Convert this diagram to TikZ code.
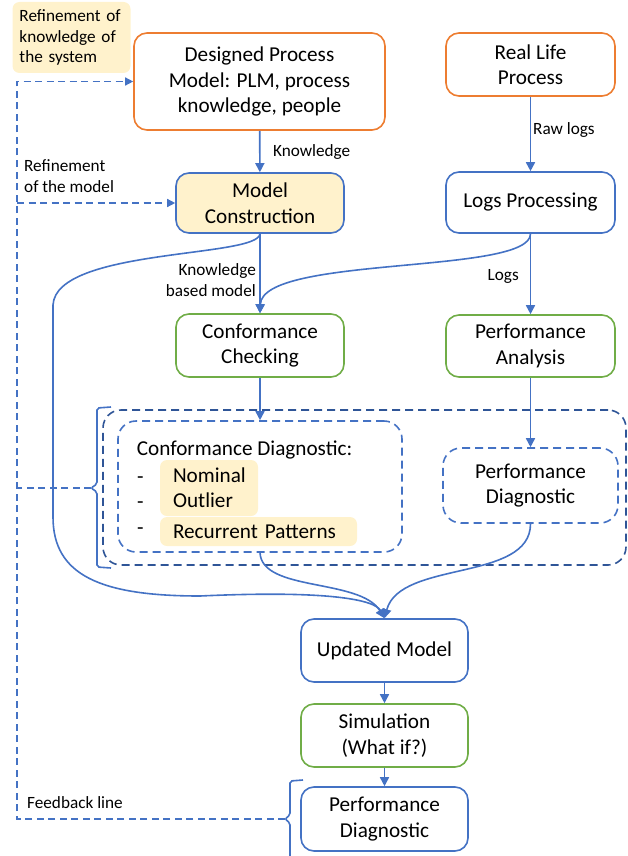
\documentclass[tikz,border=0pt]{standalone}
\usepackage{fontspec}
\setmainfont{Carlito}
\usetikzlibrary{arrows.meta,positioning,calc}
\definecolor{flowblue}{RGB}{68,114,196}
\definecolor{flownavy}{RGB}{47,85,151}
\definecolor{floworange}{RGB}{237,125,49}
\definecolor{flowgreen}{RGB}{112,173,71}
\definecolor{flowyellow}{RGB}{255,242,204}

\tikzset{
  procbox/.style={draw, rounded corners=13pt, line width=1.6pt, align=center, inner sep=0pt, font=\fontsize{21.2}{25.5}\selectfont},
  lbl/.style={font=\fontsize{17.2}{20.5}\selectfont, inner sep=0pt},
  bullet/.style={font=\fontsize{21.2}{25.5}\selectfont, inner sep=0pt, anchor=base west},
  flow/.style={draw=flowblue, line width=1.6pt, -{Triangle[length=9pt,width=9pt]}},
  fback/.style={draw=flowblue, line width=1.4pt, dash pattern=on 7pt off 4.5pt},
  diagbox/.style={line width=1.6pt, dash pattern=on 8pt off 5pt, rounded corners=18pt},
  hilite/.style={fill=flowyellow, rounded corners=7pt, inner sep=0pt},
  brk/.style={draw=flowblue, line width=1.6pt, rounded corners=2pt}
}

\begin{document}
\begin{tikzpicture}[x=1pt, y=-1pt]
  \useasboundingbox (0,0) rectangle (628,856);

  % top row
  \node[hilite, lbl, align=left, text width=104pt, minimum height=71pt, inner xsep=7pt] (refsys) at (71.5,37.5) {Refinement of\\knowledge of\\the system};
  \node[procbox, draw=floworange, minimum width=251pt, minimum height=97pt] (dpm) at (259.5,81.5) {Designed Process\\Model: PLM, process\\knowledge, people};
  \node[procbox, draw=floworange, minimum width=169pt, minimum height=63pt] (rlp) at (530.5,64.5) {Real Life\\Process};

  \node[procbox, draw=flowblue, fill=flowyellow, minimum width=168pt, minimum height=60pt] (mcon) at (260,203) {Model\\Construction};
  \node[procbox, draw=flowblue, minimum width=169pt, minimum height=61pt] (lproc) at (530.5,202.5) {Logs Processing};

  \node[procbox, draw=flowgreen, minimum width=168pt, minimum height=63pt] (cchk) at (260,345.5) {Conformance\\Checking};
  \node[procbox, draw=flowgreen, minimum width=169pt, minimum height=62pt] (panal) at (530.5,346) {Performance\\Analysis};

  % diagnostics
  \node[diagbox, draw=flownavy, minimum width=523pt, minimum height=155pt] (diag) at (364.5,487.5) {};
  \node[diagbox, draw=flowblue, minimum width=284pt, minimum height=131pt] (cdiag) at (260,486.5) {};
  \node[procbox, diagbox, draw=flowblue, minimum width=175pt, minimum height=75pt] (pdiag) at (530.5,485.5) {Performance\\Diagnostic};

  \node[procbox, draw=none, anchor=west] (cdtitle) at (136,450) {Conformance Diagnostic:};
  \node[hilite, font=\fontsize{21.2}{25}\selectfont, align=left, text width=72pt, minimum height=56pt, inner xsep=13pt] (hlnom) at (209,488) {Nominal\\Outlier};
  \node[hilite, font=\fontsize{21.2}{25}\selectfont, align=left, text width=171pt, minimum height=29pt, inner xsep=13pt] (hlrec) at (258.5,531.5) {Recurrent Patterns};
  \node[bullet] (dash1) at (137,483) {-};
  \node[bullet] (dash2) at (137,508) {-};
  \node[bullet] (dash3) at (137,534) {-};

  % bottom column
  \node[procbox, draw=flowblue, minimum width=167pt, minimum height=63pt] (umod) at (384.5,650.5) {Updated Model};
  \node[procbox, draw=flowgreen, minimum width=167pt, minimum height=63pt] (simu) at (384.5,735.5) {Simulation\\(What if?)};
  \node[procbox, draw=flowblue, minimum width=167pt, minimum height=64pt] (pdiagb) at (384.5,819) {Performance\\Diagnostic};

  % labels
  \node[lbl, anchor=west] (lknow) at (273,152) {Knowledge};
  \node[lbl, anchor=west] (lraw) at (533,130) {Raw logs};
  \node[lbl, anchor=east, align=right] (lkbm) at (256,280) {Knowledge\\based model};
  \node[lbl, anchor=east] (llogs) at (519,276) {Logs};
  \node[lbl, anchor=west, align=left] (lrefm) at (24,176) {Refinement\\of the model};
  \node[lbl, anchor=west] (lfeed) at (27,803) {Feedback line};

  % straight flows
  \draw[flow] (dpm) -- (mcon);
  \draw[flow] (rlp) -- (lproc);
  \draw[flow] (mcon) -- (cchk);
  \draw[flow] (lproc) -- (panal);
  \draw[flow] (cchk) -- (cdiag);
  \draw[flow] (panal) -- (pdiag);
  \draw[flow] (umod) -- (simu);
  \draw[flow] (simu) -- (pdiagb);

  % curved flows
  \draw[flow] (lproc.south) .. controls (530.5,275) and (262,255) .. (cchk.north);
  \draw[flow] (mcon.south) .. controls (258,258) and (56,248) .. (53,305) -- (53,517)
    .. controls (53,575) and (100,596) .. (200,596) .. controls (330,590) and (375,600) .. (umod.north);
  \draw[flow] (cdiag.south) .. controls (262,592) and (360,578) .. (umod.north);
  \draw[flow] (pdiag.south) .. controls (530.5,582) and (400,560) .. (umod.north);

  % brackets
  \coordinate (brk1) at (91,488);
  \coordinate (brk2) at (285,819);
  \draw[brk] (111,407) -- (97,408) -- (97,484) -- (brk1) -- (97,492) -- (97,567) -- (111,568);
  \draw[brk] (303,780) -- (290,781) -- (290,815) -- (brk2) -- (290,823) -- (290,860);

  % feedback
  \coordinate (fbcorner) at (17,819);
  \draw[fback, -{Triangle[length=8pt,width=8pt]}] (brk2) -- (fbcorner) |- (dpm.west);
  \draw[fback, -{Triangle[length=8pt,width=8pt]}] (fbcorner |- mcon.west) -- (mcon.west);
  \draw[fback] (brk1) -- (fbcorner |- brk1);
\end{tikzpicture}
\end{document}
